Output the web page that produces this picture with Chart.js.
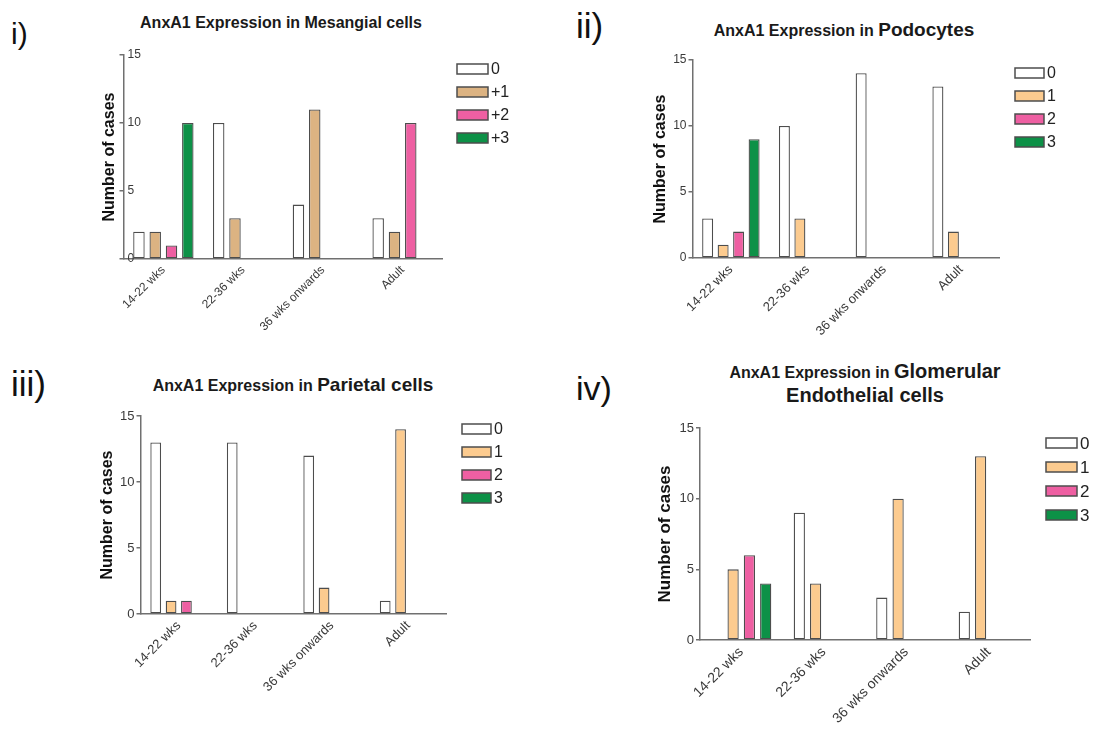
<!DOCTYPE html>
<html>
<head>
<meta charset="utf-8">
<script src="https://cdn.jsdelivr.net/npm/chart.js@4.4.1/dist/chart.umd.min.js"></script>
<style>
  body { margin: 0; background: #fff; width: 1094px; height: 729px; position: relative; overflow: hidden;
         font-family: "Liberation Sans", Arial, sans-serif; color: #1a1a1a; }
  canvas { position: absolute; }
  .ttl { position: absolute; text-align: center; font-weight: bold; white-space: nowrap; }
  .num { position: absolute; line-height: 1; white-space: nowrap; color: #111; }
</style>
</head>
<body>

<div class="num" style="left:11px;top:19px;font-size:30px">i)</div>
<div class="num" style="left:576px;top:8px;font-size:35px">ii)</div>
<div class="num" style="left:11px;top:366px;font-size:35px">iii)</div>
<div class="num" style="left:576px;top:371px;font-size:34px">iv)</div>

<div class="ttl" style="left:81px;width:400px;top:12px;line-height:22px;font-size:16px">AnxA1 Expression in Mesangial cells</div>
<div class="ttl" style="left:644px;width:400px;top:18px;line-height:24px;font-size:16px">AnxA1 Expression in <span style="font-size:19px">Podocytes</span></div>
<div class="ttl" style="left:93px;width:400px;top:373px;line-height:24px;font-size:16px">AnxA1 Expression in <span style="font-size:19px">Parietal cells</span></div>
<div class="ttl" style="left:665px;width:400px;top:360px;line-height:22px;font-size:16px">AnxA1 Expression in <span style="font-size:20px">Glomerular</span><br><span style="font-size:20px">Endothelial cells</span></div>

<canvas id="c1" width="547" height="360" style="left:0;top:0"></canvas>
<canvas id="c2" width="547" height="360" style="left:547px;top:0"></canvas>
<canvas id="c3" width="547" height="369" style="left:0;top:360px"></canvas>
<canvas id="c4" width="547" height="369" style="left:547px;top:360px"></canvas>

<script>
// data
const ageGroups = ['14-22 wks', '22-36 wks', '36 wks onwards', 'Adult'];
const mesangialScores = ['0', '+1', '+2', '+3'];
const scores = ['0', '1', '2', '3'];
const yMax = 15;
const yStep = 5;

// one row per score, one value per age group
const mesangialCounts = [
  [2, 10, 4, 3],
  [2, 3, 11, 2],
  [1, 0, 0, 10],
  [10, 0, 0, 0]
];
const podocyteCounts = [
  [3, 10, 14, 13],
  [1, 3, 0, 2],
  [2, 0, 0, 0],
  [9, 0, 0, 0]
];
const parietalCounts = [
  [13, 13, 12, 1],
  [1, 0, 2, 14],
  [1, 0, 0, 0],
  [0, 0, 0, 0]
];
const endothelialCounts = [
  [0, 9, 3, 2],
  [5, 4, 10, 13],
  [6, 0, 0, 0],
  [4, 0, 0, 0]
];

const tanColors = ['#ffffff', '#dcb382', '#ee5fa2', '#0d9147'];
const peachColors = ['#ffffff', '#fccb8f', '#ee5fa2', '#0d9147'];

Chart.defaults.font.family = '"Liberation Sans", Arial, sans-serif';

// legend with bordered boxes, drawn at a fixed spot
const boxLegend = {
  id: 'boxLegend',
  afterDraw(chart, args, o) {
    const ctx = chart.ctx;
    ctx.save();
    chart.data.datasets.forEach((ds, i) => {
      const y = o.y + i * o.gap;
      ctx.fillStyle = ds.backgroundColor;
      ctx.fillRect(o.x, y - o.h / 2, o.w, o.h);
      ctx.lineWidth = 1.5;
      ctx.strokeStyle = ds.borderColor;
      ctx.strokeRect(o.x, y - o.h / 2, o.w, o.h);
      ctx.fillStyle = '#222';
      ctx.font = o.size + 'px "Liberation Sans", Arial, sans-serif';
      ctx.textBaseline = 'middle';
      ctx.fillText(ds.label, o.x + o.w + 3, y + 1);
    });
    ctx.restore();
  }
};

function panel(id, labels, counts, colors, p) {
  new Chart(document.getElementById(id), {
    type: 'bar',
    data: {
      labels: ageGroups,
      datasets: counts.map((row, i) => ({
        label: labels[i],
        data: row,
        backgroundColor: colors[i],
        borderColor: '#4d4d4d',
        // empty bars leave no mark
        borderWidth: c => (c.raw ? 1.3 : 0),
        borderSkipped: false,
        categoryPercentage: p.cat,
        barPercentage: p.bar
      }))
    },
    options: {
      responsive: false,
      animation: false,
      layout: { padding: p.pad },
      plugins: {
        legend: { display: false },
        tooltip: { enabled: false },
        boxLegend: p.legend
      },
      scales: {
        x: {
          ticks: { minRotation: 45, maxRotation: 45, autoSkip: false, color: '#3a3a3a', font: { size: p.xFont }, padding: 4 },
          grid: { display: false, drawTicks: false },
          border: { color: '#707070', width: 1.5 },
          afterFit(s) { s.height = p.xH; }
        },
        y: {
          min: 0, max: yMax,
          ticks: { stepSize: yStep, color: '#3a3a3a', font: { size: p.yFont }, padding: p.mirror ? 4 : 2, mirror: p.mirror },
          grid: { drawOnChartArea: false, tickLength: 4, color: '#707070', lineWidth: 1.5 },
          border: { color: '#707070', width: 1.5 },
          title: { display: true, text: 'Number of cases', color: '#111',
                   font: { size: p.tFont, weight: 'bold' }, padding: { top: p.tPad, bottom: 0 } },
          afterFit(s) { s.width = p.yW; }
        }
      }
    },
    plugins: [boxLegend]
  });
}

panel('c1', mesangialScores, mesangialCounts, tanColors, {
  pad: { left: 93.5, right: 104.5, top: 55, bottom: 11 }, yW: 30, xH: 90, tPad: 6,
  cat: 0.817, bar: 0.705, mirror: true, xFont: 12, yFont: 12, tFont: 16,
  legend: { x: 457, y: 69, gap: 23, w: 31, h: 10, size: 16 }
});
panel('c2', scores, podocyteCounts, peachColors, {
  pad: { left: 101.5, right: 94.5, top: 60, bottom: 12 }, yW: 44, xH: 90, tPad: 2,
  cat: 0.807, bar: 0.71, mirror: false, xFont: 13, yFont: 12, tFont: 16,
  legend: { x: 468, y: 73, gap: 23, w: 29, h: 10, size: 16 }
});
panel('c3', scores, parietalCounts, peachColors, {
  pad: { left: 96.5, right: 100.5, top: 56, bottom: 25 }, yW: 44, xH: 90, tPad: 1,
  cat: 0.803, bar: 0.70, mirror: false, xFont: 13, yFont: 13, tFont: 16,
  legend: { x: 462, y: 69, gap: 23, w: 29, h: 10, size: 16 }
});
panel('c4', scores, endothelialCounts, peachColors, {
  pad: { left: 107, right: 64, top: 68, bottom: 4 }, yW: 46, xH: 85, tPad: 1,
  cat: 0.79, bar: 0.69, mirror: false, xFont: 14, yFont: 13, tFont: 17,
  legend: { x: 499, y: 83, gap: 24, w: 31, h: 10, size: 17 }
});
</script>
</body>
</html>
